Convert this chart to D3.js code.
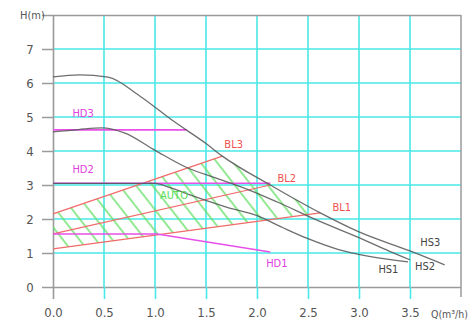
<!DOCTYPE html>
<html>
<head>
<meta charset="utf-8">
<script src="https://cdn.jsdelivr.net/npm/d3@7"></script>
<style>
  body { margin: 0; background: #fff; }
  text { font-family: "DejaVu Sans Condensed", "DejaVu Sans", sans-serif; }
</style>
</head>
<body>
<div id="chart"></div>
<script>
// Q (m3/h) vs H (m)
const xTicks = [0, 0.5, 1, 1.5, 2, 2.5, 3, 3.5];
const yTicks = [0, 1, 2, 3, 4, 5, 6, 7, 8];

const hs3 = [[0, 6.18], [0.26, 6.24], [0.54, 6.17], [0.85, 5.62], [1.18, 4.88], [1.5, 4.22],
             [1.66, 3.85], [2.13, 3.0], [2.62, 2.18], [3.0, 1.62], [3.5, 1.06], [3.84, 0.65]];
const hs2 = [[0, 4.56], [0.25, 4.63], [0.48, 4.68], [0.7, 4.53], [1.0, 4.02], [1.3, 3.53],
             [1.6, 3.2], [1.85, 2.94], [2.2, 2.5], [2.6, 1.95], [3.0, 1.45], [3.3, 1.05], [3.5, 0.8]];
const hs1 = [[0, 3.05], [1.0, 3.05], [1.15, 2.92], [1.35, 2.7], [1.7, 2.35], [2.0, 2.1],
             [2.25, 1.75], [2.5, 1.42], [2.8, 1.1], [3.1, 0.9], [3.48, 0.74]];

const hd3 = [[0, 4.62], [1.31, 4.62]];
const hd2 = [[0, 3.05], [2.13, 3.05]];
const hd1 = [[0, 1.56], [1.02, 1.56], [2.13, 1.03]];

const bl3 = [[0, 2.15], [1.66, 3.85]];
const bl2 = [[0, 1.56], [2.13, 3.0]];
const bl1 = [[0, 1.12], [2.62, 2.18]];

const width = 471, height = 320;
const svg = d3.select('#chart').append('svg')
    .attr('width', width)
    .attr('height', height);

let x = d3.scaleLinear().domain([0, 4]).range([53, 461]);
let y = d3.scaleLinear().domain([0, 8]).range([287, 15]);

const gray = '#9a9a9a';
const cyan = '#4ae8e8';

// grid
svg.append('g').selectAll('line')
    .data(yTicks.filter(d => d > 0 && d < 8))
    .enter().append('line')
    .attr('x1', x(0)).attr('x2', x(4))
    .attr('y1', d => y(d)).attr('y2', d => y(d))
    .attr('stroke', cyan).attr('stroke-width', 1.6);

svg.append('g').selectAll('line')
    .data(xTicks.filter(d => d > 0))
    .enter().append('line')
    .attr('x1', d => x(d)).attr('x2', d => x(d))
    .attr('y1', y(8)).attr('y2', y(0))
    .attr('stroke', cyan).attr('stroke-width', 1.6);

// axes
let yAxis = d3.axisLeft(y).tickValues(yTicks).tickSize(11).tickPadding(8)
    .tickFormat(d => d === 8 ? 'H(m)' : d);
let gy = svg.append('g').attr('transform', 'translate(' + x(0) + ',0)').call(yAxis);
gy.select('.domain').remove();
gy.selectAll('.tick line').attr('x2', -11).attr('x1', x(4) - x(0))
    .attr('stroke', gray).attr('stroke-width', 1.5);
gy.selectAll('.tick line').filter(d => d > 0 && d < 8).attr('x1', 0);
gy.selectAll('.tick text').attr('fill', '#555').style('font-size', '13px')
    .attr('text-anchor', 'middle').attr('x', -23);
gy.selectAll('.tick text').filter(d => d === 8)
    .style('font-size', '11px').attr('x', -33).attr('text-anchor', 'start');

let xAxis = d3.axisBottom(x).tickValues(xTicks).tickSize(12).tickPadding(9);
let gx = svg.append('g').attr('transform', 'translate(0,' + y(0) + ')').call(xAxis);
gx.select('.domain').remove();
gx.selectAll('.tick line').attr('stroke', d => d === 0 ? gray : cyan).attr('stroke-width', 1.6);
gx.selectAll('.tick line').filter(d => d === 0).attr('y1', -(y(0) - y(8)));
gx.selectAll('.tick text').attr('fill', '#555').style('font-size', '13px');

// right border
svg.append('line')
    .attr('x1', x(4)).attr('x2', x(4)).attr('y1', y(8)).attr('y2', y(0) + 10)
    .attr('stroke', gray).attr('stroke-width', 1.5);

svg.append('text')
    .attr('x', 431).attr('y', y(0) + 31)
    .attr('fill', '#555').style('font-size', '10.5px')
    .text('Q(m³/h)');

// hatched area between BL1, BL3 and HS3
const defs = svg.append('defs');
const pat = defs.append('pattern')
    .attr('id', 'hatch').attr('patternUnits', 'userSpaceOnUse')
    .attr('width', 13).attr('height', 13)
    .attr('patternTransform', 'rotate(-38)');
pat.append('line').attr('x1', 6).attr('x2', 6).attr('y1', 0).attr('y2', 13)
    .attr('stroke', '#66e066').attr('stroke-width', 1.4);

let area = [bl3[0], bl3[1], hs3[7], hs3[8], bl1[1], bl1[0]];
let polyLine = d3.line().x(d => x(d[0])).y(d => y(d[1]));
svg.append('path')
    .attr('d', polyLine(area) + 'Z')
    .attr('fill', 'url(#hatch)');

// lines
let straight = d3.line().x(d => x(d[0])).y(d => y(d[1]));
let smooth = d3.line().x(d => x(d[0])).y(d => y(d[1])).curve(d3.curveMonotoneX);

[bl1, bl2, bl3].forEach(function(d) {
  svg.append('path').attr('d', straight(d))
      .attr('fill', 'none').attr('stroke', '#f26a6a').attr('stroke-width', 1.2);
});

[hd1, hd2, hd3].forEach(function(d) {
  svg.append('path').attr('d', straight(d))
      .attr('fill', 'none').attr('stroke', '#e850e8').attr('stroke-width', 1.6);
});

[hs1, hs2, hs3].forEach(function(d) {
  svg.append('path').attr('d', smooth(d))
      .attr('fill', 'none').attr('stroke', '#555').attr('stroke-width', 1.3)
      .attr('stroke-opacity', 0.85);
});

// labels
const labels = [
  {t: 'HD3', q: 0.19, h: 5.0, c: '#e040e0'},
  {t: 'HD2', q: 0.19, h: 3.35, c: '#e040e0'},
  {t: 'HD1', q: 2.09, h: 0.58, c: '#e040e0'},
  {t: 'BL3', q: 1.68, h: 4.1, c: '#f05050'},
  {t: 'BL2', q: 2.2, h: 3.1, c: '#f05050'},
  {t: 'BL1', q: 2.74, h: 2.25, c: '#f05050'},
  {t: 'AUTO', q: 1.05, h: 2.6, c: '#55dd55'},
  {t: 'HS3', q: 3.6, h: 1.2, c: '#444'},
  {t: 'HS2', q: 3.55, h: 0.5, c: '#444'},
  {t: 'HS1', q: 3.19, h: 0.4, c: '#444'}
];
svg.append('g').selectAll('text')
    .data(labels)
    .enter().append('text')
    .attr('x', d => x(d.q)).attr('y', d => y(d.h))
    .attr('fill', d => d.c).style('font-size', '11px')
    .text(d => d.t);
</script>
</body>
</html>
